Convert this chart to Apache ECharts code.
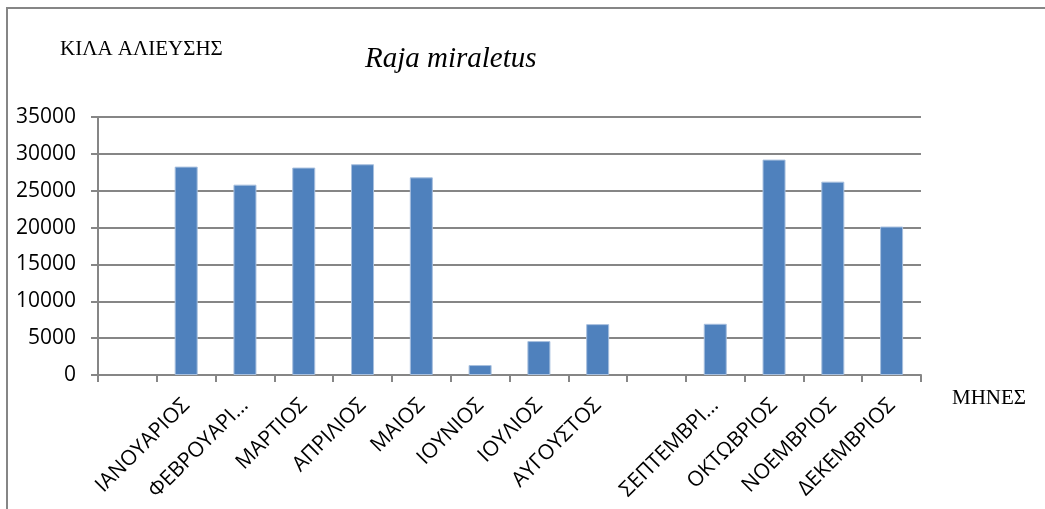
<!DOCTYPE html>
<html>
<head>
<meta charset="utf-8">
<script src="https://cdn.jsdelivr.net/npm/echarts@6/dist/echarts.min.js"></script>
<style>
html, body { margin: 0; padding: 0; background: #fff; }
#main { width: 1045px; height: 509px; }
</style>
</head>
<body>
<div id="main"></div>
<script>
var months = ['', 'ΙΑΝΟΥΑΡΙΟΣ', 'ΦΕΒΡΟΥΑΡΙ...', 'ΜΑΡΤΙΟΣ', 'ΑΠΡΙΛΙΟΣ', 'ΜΑΙΟΣ', 'ΙΟΥΝΙΟΣ',
    'ΙΟΥΛΙΟΣ', 'ΑΥΓΟΥΣΤΟΣ', '', 'ΣΕΠΤΕΜΒΡΙ...', 'ΟΚΤΩΒΡΙΟΣ', 'ΝΟΕΜΒΡΙΟΣ', 'ΔΕΚΕΜΒΡΙΟΣ'];
var kilos = [null, 28270, 25820, 28140, 28590, 26810, 1350, 4600, 6900, null, 6950, 29220, 26230, 20140];

var speciesName = 'Raja miraletus';
var yTitle = 'ΚΙΛΑ ΑΛΙΕΥΣΗΣ';
var xTitle = 'ΜΗΝΕΣ';

var myChart = echarts.init(document.getElementById('main'));

var grey = '#868686';

option = {
    animation: false,
    backgroundColor: '#fff',
    graphic: [{
        type: 'rect',
        shape: { x: 7, y: 8, width: 1200, height: 700 },
        style: { fill: 'none', stroke: grey, lineWidth: 2 },
        silent: true
    }],
    title: [{
        text: yTitle,
        left: 55, top: 34,
        textStyle: { fontFamily: 'Liberation Serif', fontWeight: 'normal', fontSize: 21, color: '#000' }
    }, {
        text: speciesName,
        left: 360, top: 40,
        textStyle: { fontFamily: 'Liberation Serif', fontStyle: 'italic', fontWeight: 'normal', fontSize: 29, color: '#000' }
    }, {
        text: xTitle,
        left: 947, top: 383,
        textStyle: { fontFamily: 'Liberation Serif', fontWeight: 'normal', fontSize: 21, color: '#000' }
    }],
    grid: { left: 98, right: 124, top: 117, bottom: 134 },
    xAxis: {
        type: 'category',
        data: months,
        boundaryGap: true,
        axisLine: { lineStyle: { color: grey, width: 2 } },
        axisTick: { show: true, alignWithLabel: false, length: 7, lineStyle: { color: grey, width: 2 } },
        axisLabel: {
            interval: 0,
            rotate: 45,
            margin: 27,
            fontFamily: 'Open Sans',
            fontSize: 21,
            color: '#000'
        },
        splitLine: { show: false }
    },
    yAxis: {
        type: 'value',
        min: 0,
        max: 35000,
        interval: 5000,
        axisLine: { show: true, lineStyle: { color: grey, width: 2 } },
        axisTick: { show: true, length: 7, lineStyle: { color: grey, width: 2 } },
        axisLabel: {
            margin: 22,
            fontFamily: 'Open Sans',
            fontSize: 21,
            color: '#000',
            formatter: function (v) { return String(v); }
        },
        splitLine: { lineStyle: { color: grey, width: 2 } }
    },
    series: [{
        type: 'bar',
        data: kilos,
        barWidth: 23,
        itemStyle: {
            color: '#4F81BD',
            borderColor: '#A7BFDE',
            borderWidth: 1
        }
    }]
};

myChart.setOption(option);
</script>
</body>
</html>
